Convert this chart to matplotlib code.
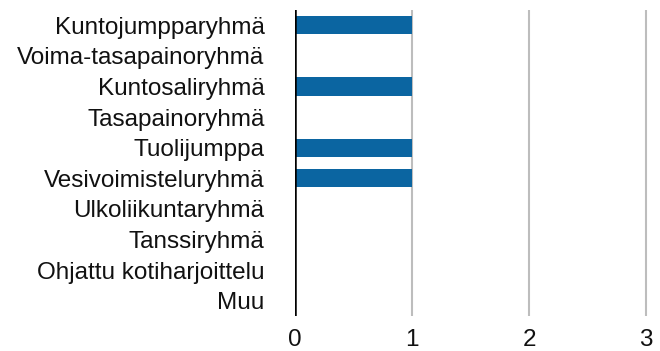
import matplotlib
matplotlib.use("Agg")
import matplotlib.pyplot as plt

categories = [
    "Kuntojumpparyhmä",
    "Voima-tasapainoryhmä",
    "Kuntosaliryhmä",
    "Tasapainoryhmä",
    "Tuolijumppa",
    "Vesivoimisteluryhmä",
    "Ulkoliikuntaryhmä",
    "Tanssiryhmä",
    "Ohjattu kotiharjoittelu",
    "Muu",
]
values = [1, 0, 1, 0, 1, 1, 0, 0, 0, 0]
x_ticks = [0, 1, 2, 3]

plt.rcParams["font.family"] = ["Liberation Sans", "DejaVu Sans"]

fig = plt.figure(figsize=(6.6, 3.51), dpi=100)
ax = fig.add_axes([295 / 660, 35 / 351, 363 / 660, 306 / 351])

ypos = list(range(len(categories)))
ax.barh(ypos, values, height=0.6, color="#0b65a1", zorder=3)

ax.set_xlim(0, 3.1)
ax.set_ylim(len(categories) - 0.5, -0.5)
ax.set_yticks(ypos)
ax.set_yticklabels(categories, fontsize=17.5, color="#111111")
ax.set_xticks(x_ticks)
ax.set_xticklabels([str(t) for t in x_ticks], fontsize=17.5, color="#111111")

for t in x_ticks[1:]:
    ax.axvline(t, color="#bdbdbd", linewidth=1.5, zorder=1)
ax.axvline(0, color="black", linewidth=1.8, zorder=4)

for s in ax.spines.values():
    s.set_visible(False)
ax.tick_params(axis="y", length=0, pad=22)
ax.tick_params(axis="x", length=0, pad=9)

fig.savefig("out.png", dpi=100, facecolor="white")
